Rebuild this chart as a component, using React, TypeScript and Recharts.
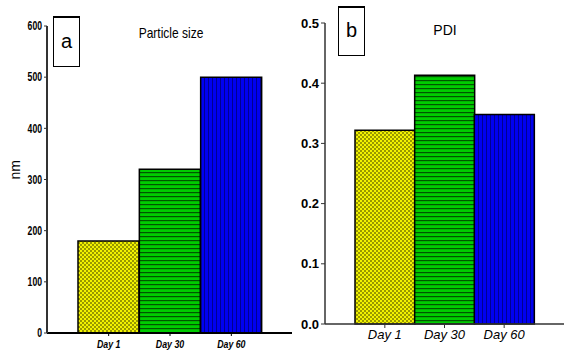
import React from 'react';
import { BarChart, Bar, XAxis, YAxis, Cell } from 'recharts';

const categories = ['Day 1', 'Day 30', 'Day 60'];
const particleSize = [180, 320, 500];
const pdiValues = [0.322, 0.413, 0.348];
const sizeTicks = [0, 100, 200, 300, 400, 500, 600];
const pdiTicks = [0, 0.1, 0.2, 0.3, 0.4, 0.5];
const barFills = ['url(#patYellow)', 'url(#patGreen)', 'url(#patBlue)'];

const sizeData = categories.map((c, i) => ({ day: c, value: particleSize[i] }));
const pdiData = categories.map((c, i) => ({ day: c, value: pdiValues[i] }));

const sans = "'Liberation Sans', Arial, sans-serif";

const NarrowYTick = (props: any) => {
  const { x, y, payload } = props;
  return (
    <g transform={`translate(${x},${y})`}>
      <text transform="scale(0.72,1)" textAnchor="end" dy="0.36em" fontSize={12} fontWeight="bold" fill="#000" fontFamily={sans}>
        {payload.value}
      </text>
    </g>
  );
};

const NarrowXTick = (props: any) => {
  const { x, y, payload } = props;
  return (
    <g transform={`translate(${x},${y})`}>
      <text transform="scale(0.8,1)" textAnchor="middle" dy="0.9em" fontSize={11} fontWeight="bold" fontStyle="italic" fill="#000" fontFamily={sans}>
        {payload.value}
      </text>
    </g>
  );
};

export default function App() {
  return (
    <div style={{ position: 'absolute', left: 0, top: 0, width: 564, height: 354, background: '#fff', fontFamily: sans }}>
      <svg width={0} height={0} style={{ position: 'absolute' }}>
        <defs>
          <pattern id="patYellow" patternUnits="userSpaceOnUse" width={4} height={4}>
            <rect x={0} y={0} width={4} height={4} fill="#f2f200" />
            <circle cx={1} cy={1} r={0.75} fill="#111100" />
            <circle cx={3} cy={3} r={0.75} fill="#111100" />
          </pattern>
          <pattern id="patGreen" patternUnits="userSpaceOnUse" width={4} height={4}>
            <rect x={0} y={0} width={4} height={4} fill="#00cc00" />
            <rect x={0} y={0} width={4} height={1.2} fill="#005500" />
          </pattern>
          <pattern id="patBlue" patternUnits="userSpaceOnUse" width={4} height={4}>
            <rect x={0} y={0} width={4} height={4} fill="#0000f0" />
            <rect x={0} y={0} width={1} height={4} fill="#000090" />
          </pattern>
        </defs>
      </svg>

      {/* Left chart: Particle size */}
      <div style={{ position: 'absolute', left: 0, top: 0 }}>
        <BarChart width={300} height={354} data={sizeData} margin={{ top: 26, right: 8, bottom: 0, left: 0 }} barCategoryGap={0}>
          <XAxis
            dataKey="day"
            height={21}
            padding={{ left: 31, right: 30 }}
            axisLine={{ stroke: '#000', strokeWidth: 2 }}
            tickLine={{ stroke: '#000' }}
            tickSize={3}
            tick={<NarrowXTick />}
          />
          <YAxis
            width={47}
            domain={[0, 600]}
            ticks={sizeTicks}
            interval={0}
            axisLine={{ stroke: '#333', strokeWidth: 2 }}
            tickLine={{ stroke: '#333' }}
            tickSize={3}
            tick={<NarrowYTick />}
            label={{ value: 'nm', angle: -90, position: 'insideLeft', offset: 15, style: { fontSize: 14, fill: '#000', fontFamily: sans } }}
          />
          <Bar dataKey="value" isAnimationActive={false} stroke="#000" strokeWidth={1.5}>
            {sizeData.map((d, i) => (
              <Cell key={d.day} fill={barFills[i]} />
            ))}
          </Bar>
        </BarChart>
      </div>

      {/* Right chart: PDI */}
      <div style={{ position: 'absolute', left: 282, top: 0 }}>
        <BarChart width={282} height={354} data={pdiData} margin={{ top: 23, right: 0, bottom: 0, left: 0 }} barCategoryGap={0}>
          <XAxis
            dataKey="day"
            height={30}
            padding={{ left: 30, right: 30 }}
            axisLine={{ stroke: '#333', strokeWidth: 1.5 }}
            tickLine={{ stroke: '#333' }}
            tickSize={4}
            tick={{ fontSize: 13, fill: '#000', fontFamily: sans, fontStyle: 'italic' }}
          />
          <YAxis
            width={43}
            domain={[0, 0.5]}
            ticks={pdiTicks}
            interval={0}
            tickFormatter={(v: number) => v.toFixed(1)}
            axisLine={{ stroke: '#333', strokeWidth: 1.5 }}
            tickLine={{ stroke: '#333' }}
            tickSize={4}
            tick={{ fontSize: 13, fill: '#000', fontFamily: sans, fontWeight: 'bold' }}
          />
          <Bar dataKey="value" isAnimationActive={false} stroke="#000" strokeWidth={1.5}>
            {pdiData.map((d, i) => (
              <Cell key={d.day} fill={barFills[i]} />
            ))}
          </Bar>
        </BarChart>
      </div>

      {/* Panel labels and titles */}
      <div style={{ position: 'absolute', left: 53, top: 16, width: 25, height: 48, border: '1.5px solid #000', borderTopWidth: 2, fontSize: 20, lineHeight: '46px', textAlign: 'center', fontFamily: sans }}>a</div>
      <div style={{ position: 'absolute', left: 128, top: 24, width: 86, textAlign: 'center', fontSize: 15, fontFamily: sans, transform: 'scaleX(0.8)' }}>Particle size</div>
      <div style={{ position: 'absolute', left: 338, top: 6, width: 25, height: 47, border: '1.5px solid #000', borderTopWidth: 2, fontSize: 20, lineHeight: '45px', textAlign: 'center', fontFamily: sans }}>b</div>
      <div style={{ position: 'absolute', left: 425, top: 22, width: 40, textAlign: 'center', fontSize: 14, fontFamily: sans }}>PDI</div>
    </div>
  );
}
